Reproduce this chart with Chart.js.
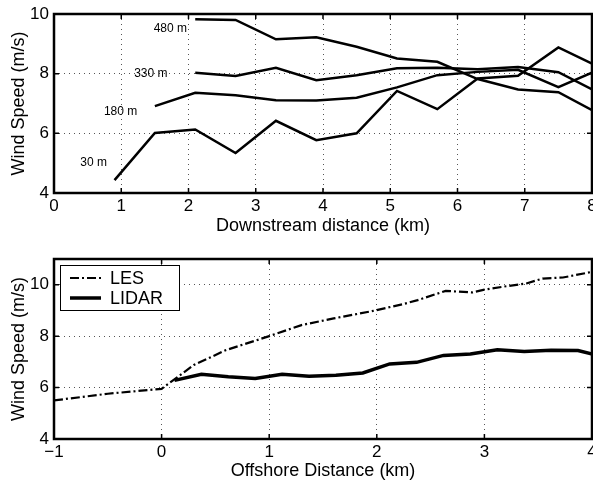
<!DOCTYPE html>
<html>
<head>
<meta charset="utf-8">
<script src="https://cdn.jsdelivr.net/npm/chart.js@4.4.1/dist/chart.umd.min.js"></script>
<style>
  html, body { margin: 0; padding: 0; background: #fff; }
  #wrap { position: relative; width: 593px; height: 480px; }
  #wrap div { position: absolute; left: 0; width: 593px; height: 240px; }
  canvas { display: block; }
</style>
</head>
<body>
<div id="wrap">
  <div style="top:0"><canvas id="topChart" width="593" height="240"></canvas></div>
  <div style="top:240px"><canvas id="bottomChart" width="593" height="240"></canvas></div>
</div>
<script>
// top panel: wind speed at four heights vs downstream distance
var distKm = [0.9, 1.5, 2.1, 2.7, 3.3, 3.9, 4.5, 5.1, 5.7, 6.3, 6.9, 7.5, 8.1];
var speed30 = [4.43, 6.01, 6.13, 5.34, 6.42, 5.77, 6.0, 7.42, 6.81, 7.84, 7.93, 8.88, 8.23];
var speed180 = [null, 6.91, 7.36, 7.28, 7.11, 7.1, 7.19, 7.54, 7.95, 8.06, 8.13, 7.55, 8.13];
var speed330 = [null, null, 8.03, 7.92, 8.2, 7.78, 7.95, 8.18, 8.2, 8.15, 8.22, 8.05, 7.36];
var speed480 = [null, null, 9.82, 9.8, 9.15, 9.22, 8.9, 8.51, 8.4, 7.82, 7.47, 7.38, 6.66];
var heightNames = ['30 m', '180 m', '330 m', '480 m'];
var heightLabelAt = [[0.59, 5.0], [0.99, 6.74], [1.44, 7.99], [1.73, 9.5]];

// bottom panel: LES vs LIDAR across the coast
var lesX = [-1, -0.5, 0, 0.3, 0.6, 1.0, 1.3, 1.6, 1.93, 2.24, 2.38, 2.64, 2.89, 3.0, 3.17, 3.39, 3.54, 3.73, 4.0];
var lesY = [5.5, 5.76, 5.95, 6.88, 7.46, 8.0, 8.43, 8.69, 8.95, 9.24, 9.4, 9.76, 9.7, 9.81, 9.92, 10.05, 10.24, 10.28, 10.5];
var lidarX = [0.12, 0.37, 0.62, 0.87, 1.12, 1.37, 1.62, 1.87, 2.12, 2.37, 2.62, 2.87, 3.12, 3.37, 3.62, 3.87, 4.12];
var lidarY = [6.28, 6.52, 6.42, 6.35, 6.52, 6.44, 6.48, 6.57, 6.92, 6.98, 7.25, 7.31, 7.47, 7.4, 7.45, 7.44, 7.18];

var FONT = 'Liberation Sans, Arial, Helvetica, sans-serif';

function toPoints(xs, ys) {
  return xs.map(function(x, i) { return { x: x, y: ys[i] }; })
           .filter(function(p) { return p.y !== null; });
}
function minusFmt(v) {
  return v < 0 ? '\u2212' + Math.abs(v) : String(v);
}

// matlab-ish box with inward ticks
var matlabFrame = {
  id: 'matlabFrame',
  afterDatasetsDraw: function(chart) {
    var ctx = chart.ctx, a = chart.chartArea;
    var sx = chart.scales.x, sy = chart.scales.y;
    ctx.save();
    ctx.strokeStyle = '#000';
    ctx.lineWidth = 1.5;
    ctx.beginPath();
    sx.ticks.forEach(function(t) {
      var px = sx.getPixelForValue(t.value);
      ctx.moveTo(px, a.bottom); ctx.lineTo(px, a.bottom - 5);
      ctx.moveTo(px, a.top); ctx.lineTo(px, a.top + 5);
    });
    sy.ticks.forEach(function(t) {
      var py = sy.getPixelForValue(t.value);
      ctx.moveTo(a.left, py); ctx.lineTo(a.left + 5, py);
      ctx.moveTo(a.right, py); ctx.lineTo(a.right - 5, py);
    });
    ctx.stroke();
    ctx.lineWidth = 2.5;
    ctx.strokeRect(a.left, a.top, a.right - a.left, a.bottom - a.top);
    ctx.restore();
  }
};

var heightLabels = {
  id: 'heightLabels',
  afterDatasetsDraw: function(chart) {
    var ctx = chart.ctx, sx = chart.scales.x, sy = chart.scales.y;
    ctx.save();
    ctx.font = '12px ' + FONT;
    ctx.fillStyle = '#000';
    ctx.textAlign = 'center';
    ctx.textBaseline = 'middle';
    heightNames.forEach(function(name, i) {
      ctx.fillText(name, sx.getPixelForValue(heightLabelAt[i][0]), sy.getPixelForValue(heightLabelAt[i][1]));
    });
    ctx.restore();
  }
};

var boxLegend = {
  id: 'boxLegend',
  afterDraw: function(chart) {
    var ctx = chart.ctx, a = chart.chartArea;
    var x0 = a.left + 6, y0 = a.top + 6;
    ctx.save();
    ctx.fillStyle = '#fff';
    ctx.fillRect(x0, y0, 119, 45);
    ctx.strokeStyle = '#000';
    ctx.lineWidth = 1;
    ctx.strokeRect(x0 + 0.5, y0 + 0.5, 119, 45);
    chart.data.datasets.forEach(function(ds, i) {
      var ly = y0 + 13 + i * 20;
      ctx.beginPath();
      ctx.setLineDash(ds.borderDash || []);
      ctx.lineWidth = ds.borderWidth;
      ctx.moveTo(x0 + 10, ly);
      ctx.lineTo(x0 + 41, ly);
      ctx.stroke();
      ctx.setLineDash([]);
      ctx.fillStyle = '#000';
      ctx.font = '18px ' + FONT;
      ctx.textBaseline = 'middle';
      ctx.fillText(ds.label, x0 + 50, ly + 1);
    });
    ctx.restore();
  }
};

function axisOpts(min, max, step, title, isX, fit, titlePad) {
  return {
    type: 'linear',
    min: min,
    max: max,
    afterFit: function(scale) {
      if (isX) {
        scale.height = fit;
        scale.paddingLeft = 0;
        scale.paddingRight = 0;
      } else {
        scale.width = fit;
        scale.paddingTop = 0;
        scale.paddingBottom = 0;
      }
    },
    ticks: {
      stepSize: step,
      includeBounds: false,
      color: '#000',
      padding: isX ? 3 : 5,
      font: { family: FONT, size: 17 },
      maxRotation: 0,
      autoSkip: false,
      callback: function(v) { return minusFmt(v); }
    },
    grid: {
      color: '#555',
      lineWidth: 1,
      drawTicks: false
    },
    border: { display: false, dash: [1, 4] },
    title: {
      display: true,
      text: title,
      color: '#000',
      font: { family: FONT, size: 18, lineHeight: 1 },
      padding: titlePad
    }
  };
}

Chart.defaults.animation = false;

var topData = [speed30, speed180, speed330, speed480].map(function(arr, i) {
  return {
    label: heightNames[i],
    data: toPoints(distKm, arr),
    borderColor: '#000',
    borderWidth: 2.5,
    pointRadius: 0,
    tension: 0
  };
});

var ctxTop = document.getElementById('topChart').getContext('2d');
var topChart = new Chart(ctxTop, {
  type: 'line',
  data: { datasets: topData },
  options: {
    responsive: false,
    maintainAspectRatio: false,
    layout: { padding: { top: 14, right: 1, left: 0, bottom: 0 } },
    plugins: { legend: { display: false }, tooltip: { enabled: false } },
    scales: {
      x: axisOpts(0, 8, 1, 'Downstream distance (km)', true, 47, { top: 0, bottom: 5 }),
      y: axisOpts(4, 10, 2, 'Wind Speed (m/s)', false, 54, { top: 10, bottom: 0 })
    }
  },
  plugins: [matlabFrame, heightLabels]
});

var ctxBottom = document.getElementById('bottomChart').getContext('2d');
var bottomChart = new Chart(ctxBottom, {
  type: 'line',
  data: {
    datasets: [
      {
        label: 'LES',
        data: toPoints(lesX, lesY),
        borderColor: '#000',
        borderWidth: 2.2,
        borderDash: [9, 3, 2, 3],
        pointRadius: 0,
        tension: 0
      },
      {
        label: 'LIDAR',
        data: toPoints(lidarX, lidarY),
        borderColor: '#000',
        borderWidth: 3.5,
        pointRadius: 0,
        tension: 0
      }
    ]
  },
  options: {
    responsive: false,
    maintainAspectRatio: false,
    layout: { padding: { top: 19, right: 1, left: 0, bottom: 0 } },
    plugins: { legend: { display: false }, tooltip: { enabled: false } },
    scales: {
      x: axisOpts(-1, 4, 1, 'Offshore Distance (km)', true, 41, { top: 0, bottom: 0 }),
      y: axisOpts(4, 11, 2, 'Wind Speed (m/s)', false, 54, { top: 10, bottom: 0 })
    }
  },
  plugins: [matlabFrame, boxLegend]
});
</script>
</body>
</html>
